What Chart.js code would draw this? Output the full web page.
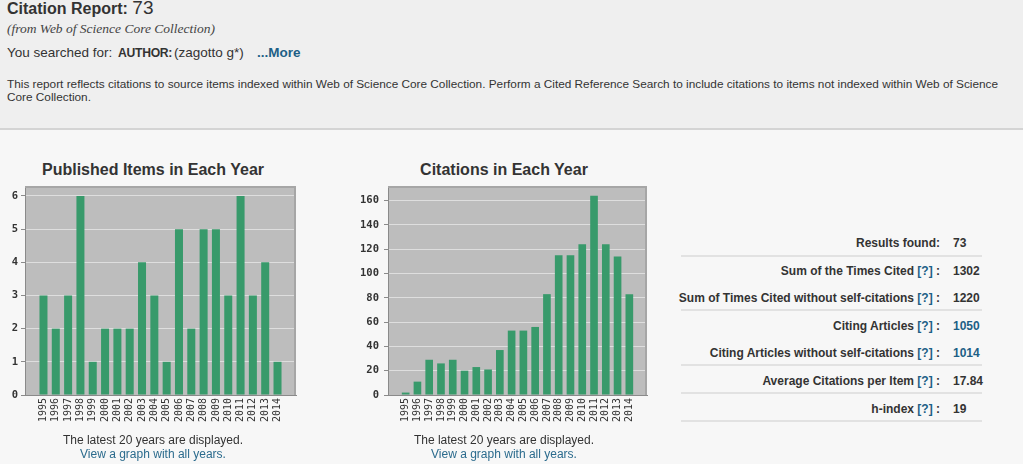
<!DOCTYPE html>
<html>
<head>
<meta charset="utf-8">
<script src="https://cdn.jsdelivr.net/npm/chart.js@4/dist/chart.umd.min.js"></script>
<style>
  html, body { margin:0; padding:0; }
  body { width:1023px; height:464px; background:#f7f7f7; font-family:"Liberation Sans", Arial, sans-serif; color:#333; position:relative; overflow:hidden; }
  #hdr { position:absolute; left:0; top:0; width:1023px; height:128px; background:#efefef; border-bottom:2px solid #d4d4d4; }
  .abs { position:absolute; white-space:nowrap; }
  #t1 { left:7px; top:-3px; font-size:16px; font-weight:bold; }
  #t1 span { font-size:19px; font-weight:normal; }
  #t2 { left:7px; top:21px; font-family:"Liberation Serif", serif; font-style:italic; font-size:13.5px; color:#444; }
  #t3 { left:7px; top:45px; font-size:13.5px; }
  #t3 span { position:absolute; top:0; }
  #t3 b.auth { font-size:12.2px; position:absolute; left:111px; top:1px; letter-spacing:-0.3px; }
  #t3 .zag { left:167px; }
  #t3 b.more { color:#1d5f86; left:250px; }
  #t4 { left:7px; top:78px; font-size:11.8px; line-height:13px; }
  .ctitle { position:absolute; font-size:16px; font-weight:bold; color:#333; text-align:center; width:320px; }
  .cfoot { position:absolute; font-size:12px; color:#333; text-align:center; width:320px; line-height:14px; }
  .cfoot a { color:#2b6b8d; text-decoration:none; }
  canvas { position:absolute; }
  #tbl { position:absolute; left:681px; top:230px; width:301px; font-size:12px; font-weight:bold; color:#333; }
  .row { position:absolute; left:0; width:301px; height:16px; }
  .row .lab { position:absolute; right:42px; text-align:right; white-space:nowrap; }
  .row .val { position:absolute; left:272px; white-space:nowrap; }
  .q { color:#1d5f86; }
  .blue { color:#1d5f86; }
  .sep { position:absolute; left:0; width:301px; height:0; border-top:2px solid #e2e2e2; }
</style>
</head>
<body>
<div id="hdr"></div>
<div id="t1" class="abs">Citation Report: <span>73</span></div>
<div id="t2" class="abs">(from Web of Science Core Collection)</div>
<div id="t3" class="abs">You searched for:<b class="auth">AUTHOR:</b><span class="zag">(zagotto g*)</span><b class="more" style="position:absolute;top:0;">...More</b></div>
<div id="t4" class="abs">This report reflects citations to source items indexed within Web of Science Core Collection. Perform a Cited Reference Search to include citations to items not indexed within Web of Science<br>Core Collection.</div>

<div class="ctitle" style="left:-7px; top:161px;">Published Items in Each Year</div>
<div class="ctitle" style="left:344px; top:161px;">Citations in Each Year</div>

<canvas id="c1" width="320" height="290" style="left:0px; top:150px; width:320px; height:290px;"></canvas>
<canvas id="c2" width="320" height="290" style="left:340px; top:150px; width:320px; height:290px;"></canvas>

<div class="cfoot" style="left:-7px; top:433px;">The latest 20 years are displayed.<br><a>View a graph with all years.</a></div>
<div class="cfoot" style="left:344px; top:433px;">The latest 20 years are displayed.<br><a>View a graph with all years.</a></div>

<div id="tbl"></div>

<script>
// ---- data ----
const years = ["1995","1996","1997","1998","1999","2000","2001","2002","2003","2004","2005","2006","2007","2008","2009","2010","2011","2012","2013","2014"];
const publishedItems = [3,2,3,6,1,2,2,2,4,3,1,5,2,5,5,3,6,3,4,1];
const citations = [2,11,29,26,29,20,23,21,37,53,53,56,83,115,115,124,164,124,114,83];
const publishedTicks = [0,1,2,3,4,5,6];
const citationTicks = [0,20,40,60,80,100,120,140,160];
const statLabels = ["Results found:", "Sum of the Times Cited", "Sum of Times Cited without self-citations", "Citing Articles", "Citing Articles without self-citations", "Average Citations per Item", "h-index"];
const statValues = ["73", "1302", "1220", "1050", "1014", "17.84", "19"];

// ---- stats table ----
(function(){
  const tbl = document.getElementById('tbl');
  const rowTops = [6, 34, 61, 89, 116, 144, 172];
  const hasQ = [false,true,true,true,true,true,true];
  const blueVal = [false,false,false,true,true,false,false];
  const seps = [25, 79, 134, 162, 190];
  statLabels.forEach((l,i)=>{
    const r = document.createElement('div');
    r.className='row'; r.style.top = rowTops[i]+'px';
    const lab = document.createElement('div'); lab.className='lab';
    lab.innerHTML = hasQ[i] ? (l + ' <span class="q">[?]</span> :') : l;
    const val = document.createElement('div'); val.className='val' + (blueVal[i]?' blue':'');
    val.textContent = statValues[i];
    r.appendChild(lab); r.appendChild(val); tbl.appendChild(r);
  });
  seps.forEach(t=>{ const s=document.createElement('div'); s.className='sep'; s.style.top=t+'px'; tbl.appendChild(s); });
})();

// ---- charts ----
const plotBg = {
  id:'plotBg',
  beforeDraw(chart){
    const a = chart.chartArea, ctx = chart.ctx;
    ctx.save();
    ctx.fillStyle = '#bdbdbd';
    ctx.fillRect(a.left, a.top, a.right-a.left, a.bottom-a.top);
    ctx.restore();
  },
  afterDraw(chart){
    const a = chart.chartArea, ctx = chart.ctx;
    ctx.save();
    ctx.strokeStyle = '#a6a6a6'; ctx.lineWidth = 2;
    ctx.beginPath();
    ctx.moveTo(a.left, a.top+1); ctx.lineTo(a.right-1, a.top+1); ctx.lineTo(a.right-1, a.bottom);
    ctx.stroke();
    ctx.restore();
  }
};

function makeChart(id, values, ticks, yMax, yWidth, rightPad, labelPad){
  const pts = values.map((v,i)=>({x:i, y:v}));
  return new Chart(document.getElementById(id), {
    type:'bar',
    data:{ datasets:[{ data:pts, backgroundColor:'#389a6b', borderWidth:0, barPercentage:0.65, categoryPercentage:1 }] },
    options:{
      responsive:false, animation:false, devicePixelRatio:1,
      layout:{ padding:{ left:0, top:36, right:rightPad, bottom:0 } },
      plugins:{ legend:{display:false}, tooltip:{enabled:false}, title:{display:false} },
      scales:{
        x:{
          type:'linear', min:-1.5, max:20.5, offset:false,
          afterFit(s){ s.height = 45; },
          afterBuildTicks(s){ s.ticks = years.map((y,i)=>({value:i})); },
          grid:{ display:false, drawTicks:false },
          border:{ display:true, color:'#8a8a8a', width:1 },
          ticks:{ autoSkip:false, minRotation:90, maxRotation:90, padding:3,
                  callback:(v)=> years[v] ?? '',
                  color:'#333', font:{ family:'DejaVu Sans Mono', size:10 } }
        },
        y:{
          min:0, max:yMax,
          afterFit(s){ s.width = yWidth; },
          afterBuildTicks(s){ s.ticks = ticks.map(v=>({value:v})); },
          grid:{ color:(c)=> c.tick && c.tick.value===0 ? 'rgba(0,0,0,0)' : 'rgba(255,255,255,0.5)', lineWidth:1, drawTicks:true, tickLength:4, tickColor:'#8a8a8a', tickBorderDash:[], borderDash:[3,3] },
          border:{ display:true, color:'#8a8a8a', width:1, dash:[] },
          ticks:{ padding:labelPad, color:'#333', font:{ family:'DejaVu Sans Mono', size:10.5, weight:'bold' } }
        }
      }
    },
    plugins:[plotBg]
  });
}

makeChart('c1', publishedItems, publishedTicks, 6.3, 25, 24, 3);
makeChart('c2', citations, citationTicks, 172, 48, 13, 5);
</script>
</body>
</html>
